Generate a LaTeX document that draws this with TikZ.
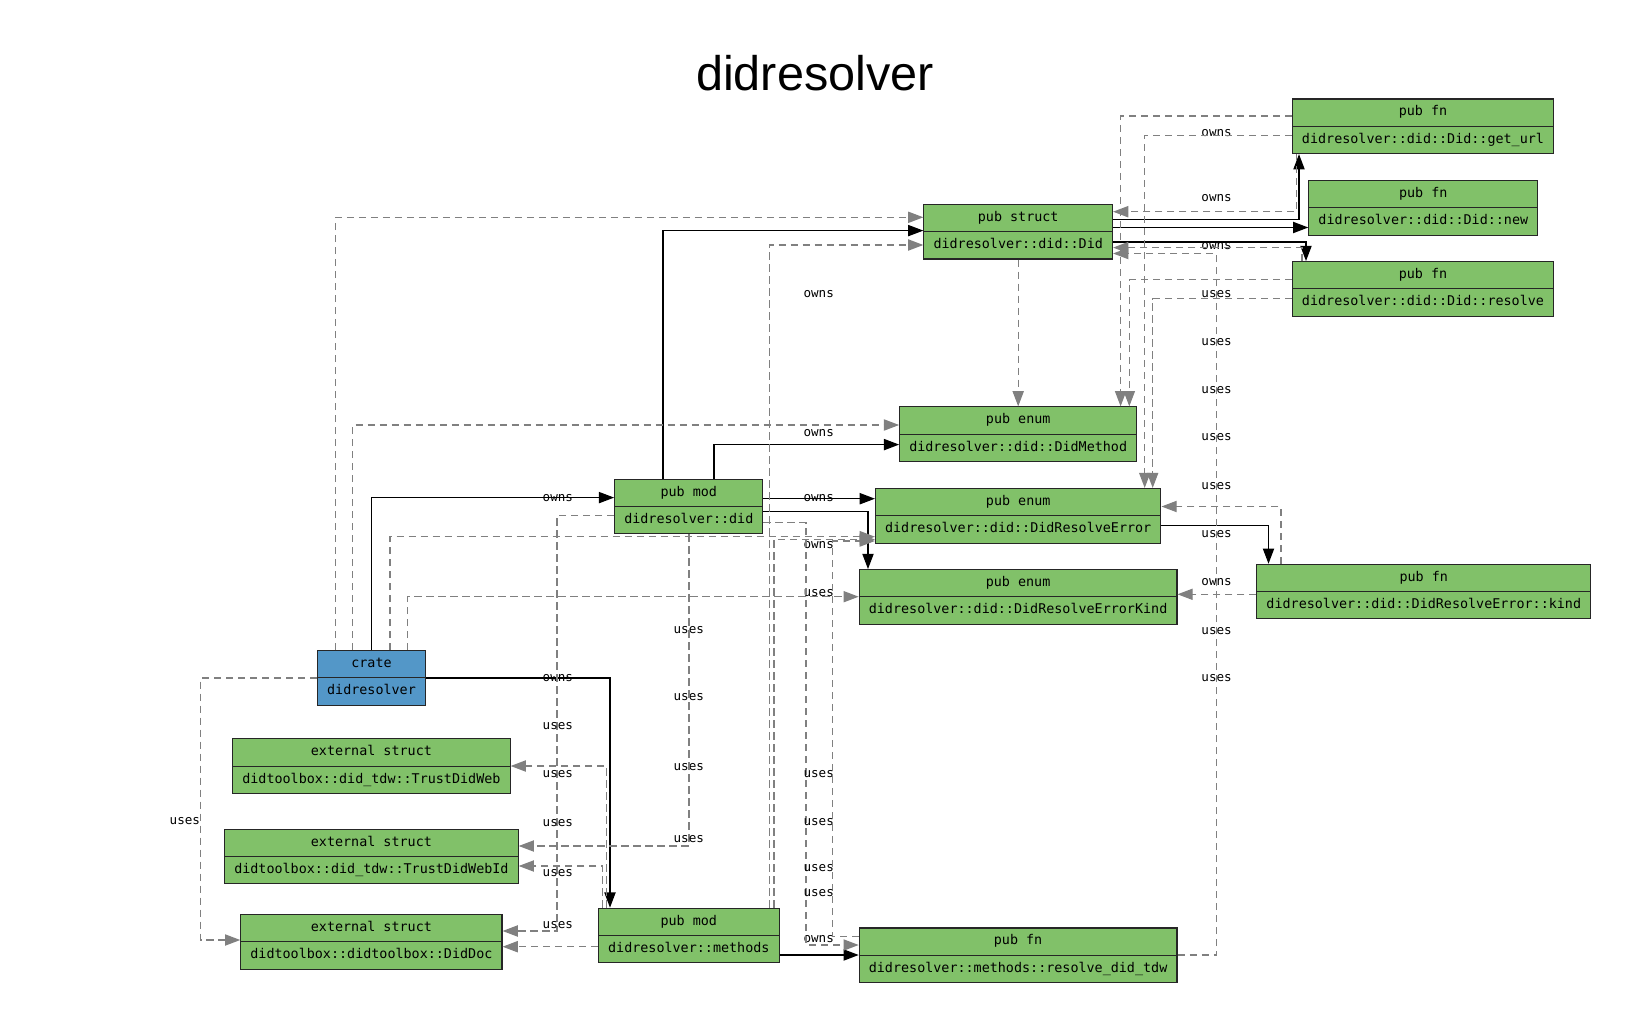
\documentclass[tikz,border=0pt]{standalone}
\usepackage{fontspec}
\setmonofont{DejaVu Sans Mono}
\newfontfamily\titlefamily{Liberation Sans}
\usetikzlibrary{arrows.meta, shapes.multipart}

\definecolor{pubgreen}{HTML}{81C169}
\definecolor{crateblue}{HTML}{5397C8}
\definecolor{edgegray}{HTML}{808080}

\newcommand{\boxfont}{\fontsize{6.7}{8}\selectfont\ttfamily}
\newcommand{\labelfont}{\fontsize{6.3}{7}\selectfont\ttfamily}

\begin{document}
\begin{tikzpicture}[x=0.5pt, y=-0.5pt,
                    item_node/.style={rectangle split, rectangle split parts=2, draw=black!85, line width=0.55pt,
                                      inner xsep=4.8pt, inner ysep=2.55pt, font=\boxfont},
                    green_node/.style={item_node, fill=pubgreen},
                    blue_node/.style={item_node, fill=crateblue},
                    owns_edge/.style={draw=black, line width=0.6pt, -{Triangle[length=7.6pt, width=5.6pt]}},
                    uses_edge/.style={draw=edgegray, line width=0.6pt, dash pattern=on 3.6pt off 2.4pt,
                                      -{Triangle[length=7.6pt, width=5.6pt, fill=edgegray]}},
                    edge_label/.style={font=\labelfont, inner sep=0pt}
                ]
    \useasboundingbox (0,0) rectangle (1629,1022);

    \node[font=\titlefamily\fontsize{24.3}{28}\selectfont] (title) at (815,73) {didresolver};

    % crate and modules
    \node[blue_node] (crate) at (371.5,677.9) {\strut crate\nodepart{two}\strut didresolver};
    \node[green_node] (did_mod) at (688.8,506.5) {\strut pub mod\nodepart{two}\strut didresolver::did};
    \node[green_node] (methods_mod) at (688.8,935.5) {\strut pub mod\nodepart{two}\strut didresolver::methods};

    % items of did
    \node[green_node] (did_struct) at (1018.2,231.7) {\strut pub struct\nodepart{two}\strut didresolver::did::Did};
    \node[green_node] (get_url) at (1423,126.3) {\strut pub fn\nodepart{two}\strut didresolver::did::Did::get\_url};
    \node[green_node] (did_new) at (1423.3,207.8) {\strut pub fn\nodepart{two}\strut didresolver::did::Did::new};
    \node[green_node] (did_resolve) at (1423,288.9) {\strut pub fn\nodepart{two}\strut didresolver::did::Did::resolve};
    \node[green_node] (did_method) at (1018.2,434.2) {\strut pub enum\nodepart{two}\strut didresolver::did::DidMethod};
    \node[green_node] (resolve_error) at (1018.2,515.8) {\strut pub enum\nodepart{two}\strut didresolver::did::DidResolveError};
    \node[green_node] (error_kind) at (1018.1,596.9) {\strut pub enum\nodepart{two}\strut didresolver::did::DidResolveErrorKind};
    \node[green_node] (kind_fn) at (1423.8,591.6) {\strut pub fn\nodepart{two}\strut didresolver::did::DidResolveError::kind};

    % items of methods
    \node[green_node] (resolve_tdw) at (1018.1,955.3) {\strut pub fn\nodepart{two}\strut didresolver::methods::resolve\_did\_tdw};

    % external
    \node[green_node] (trust_web) at (371.4,766.2) {\strut external struct\nodepart{two}\strut didtoolbox::did\_tdw::TrustDidWeb};
    \node[green_node] (trust_web_id) at (371.4,856.5) {\strut external struct\nodepart{two}\strut didtoolbox::did\_tdw::TrustDidWebId};
    \node[green_node] (did_doc) at (371.4,941.8) {\strut external struct\nodepart{two}\strut didtoolbox::didtoolbox::DidDoc};

    % owns
    \draw[owns_edge] (crate.north) |- (did_mod.west |- 0,497.6) node[edge_label] at (557.9,497.6) {owns};
    \draw[owns_edge] (crate.east) -| (610,0 |- methods_mod.north) node[edge_label] at (557.9,678.4) {owns};
    \draw[owns_edge] (663,0 |- did_mod.north) |- (did_struct.west |- 0,230.6) node[edge_label] at (818.7,294) {owns};
    \draw[owns_edge] (714,0 |- did_mod.north) |- (did_method.west |- 0,444.6) node[edge_label] at (818.7,433.2) {owns};
    \draw[owns_edge] (did_mod.east |- 0,498.7) -- (resolve_error.west |- 0,498.7) node[edge_label] at (818.7,497.6) {owns};
    \draw[owns_edge] (did_mod.east |- 0,511.3) -| (868,0 |- error_kind.north) node[edge_label] at (818.7,545.4) {owns};
    \draw[owns_edge] (did_struct.east |- 0,219.4) -| (1299,0 |- get_url.south) node[edge_label] at (1216.6,133) {owns};
    \draw[owns_edge] (did_struct.east |- 0,227.5) -- (did_new.west |- 0,227.5) node[edge_label] at (1216.6,198.4) {owns};
    \draw[owns_edge] (did_struct.east |- 0,241.9) -| (1306,0 |- did_resolve.north) node[edge_label] at (1216.6,246.2) {owns};
    \draw[owns_edge] (resolve_error.east |- 0,525.7) -| (1268.5,0 |- kind_fn.north) node[edge_label] at (1216.6,581.8) {owns};
    \draw[owns_edge] (methods_mod.east |- 0,955) -- (resolve_tdw.west |- 0,955) node[edge_label] at (818.7,939.2) {owns};

    % uses
    \draw[uses_edge] (335.7,0 |- crate.north) |- (did_struct.west |- 0,217.3) node[edge_label] at (688.8,629.6) {uses};
    \draw[uses_edge] (352.7,0 |- crate.north) |- (did_method.west |- 0,425) node[edge_label] at (688.8,697.1) {uses};
    \draw[uses_edge] (390,0 |- crate.north) |- (resolve_error.west |- 0,536.7) node[edge_label] at (688.8,766.7) {uses};
    \draw[uses_edge] (407.7,0 |- crate.north) |- (error_kind.west |- 0,596.7) node[edge_label] at (818.7,593.2) {uses};
    \draw[uses_edge] (crate.west) -| (200.7,940) -- (did_doc.west |- 0,940) node[edge_label] at (184.9,820.7) {uses};
    \draw[uses_edge] (did_mod.west |- 0,515.6) -| (557,931) -- (did_doc.east |- 0,931) node[edge_label] at (557.9,924.6) {uses};
    \draw[uses_edge] (689,0 |- did_mod.south) |- (trust_web_id.east |- 0,846) node[edge_label] at (688.8,839.4) {uses};
    \draw[uses_edge] (did_mod.east |- 0,522.6) -| (806,945) -- (resolve_tdw.west |- 0,945) node[edge_label] at (818.7,868.5) {uses};
    \draw[uses_edge] (769.3,0 |- methods_mod.north) |- (did_struct.west |- 0,245) node[edge_label] at (557.9,774) {uses};
    \draw[uses_edge] (774,0 |- methods_mod.north) |- (resolve_error.west |- 0,539.5) node[edge_label] at (818.7,774) {uses};
    \draw[uses_edge] (methods_mod.west |- 0,946.7) -- (did_doc.east |- 0,946.7) node[edge_label] at (557.9,872.7) {uses};
    \draw[uses_edge] (606.7,0 |- methods_mod.north) |- (trust_web.east |- 0,766) node[edge_label] at (557.9,726.2) {uses};
    \draw[uses_edge] (602.7,0 |- methods_mod.north) |- (trust_web_id.east |- 0,866) node[edge_label] at (557.9,822.8) {uses};
    \draw[uses_edge] (did_struct.south) -- (did_method.north);
    \draw[uses_edge] (1296.7,0 |- get_url.south) |- (did_struct.east |- 0,211.7) node[edge_label] at (1216.6,294) {uses};
    \draw[uses_edge] (get_url.west |- 0,116) -| (1120.6,0 |- did_method.north) node[edge_label] at (1216.6,341.8) {uses};
    \draw[uses_edge] (get_url.west |- 0,135.4) -| (1144.7,0 |- resolve_error.north) node[edge_label] at (1216.6,389.6) {uses};
    \draw[uses_edge] (1302,0 |- did_resolve.north) |- (did_struct.east |- 0,247.6) node[edge_label] at (1216.6,437.4) {uses};
    \draw[uses_edge] (did_resolve.west |- 0,279.5) -| (1129.3,0 |- did_method.north) node[edge_label] at (1216.6,486.2) {uses};
    \draw[uses_edge] (did_resolve.west |- 0,298.5) -| (1152.7,0 |- resolve_error.north) node[edge_label] at (1216.6,534) {uses};
    \draw[uses_edge] (kind_fn.west |- 0,594.3) -- (error_kind.east |- 0,594.3) node[edge_label] at (1216.6,630.6) {uses};
    \draw[uses_edge] (1281,0 |- kind_fn.north) |- (resolve_error.east |- 0,506.5) node[edge_label] at (1216.6,678.4) {uses};
    \draw[uses_edge] (resolve_tdw.east |- 0,955) -| (1216.6,253.5) -- (did_struct.east |- 0,253.5) node[edge_label] at (818.7,821.8) {uses};
    \draw[uses_edge] (resolve_tdw.west |- 0,936.7) -| (832.5,541) -- (resolve_error.west |- 0,541) node[edge_label] at (818.7,893.5) {uses};
\end{tikzpicture}
\end{document}
